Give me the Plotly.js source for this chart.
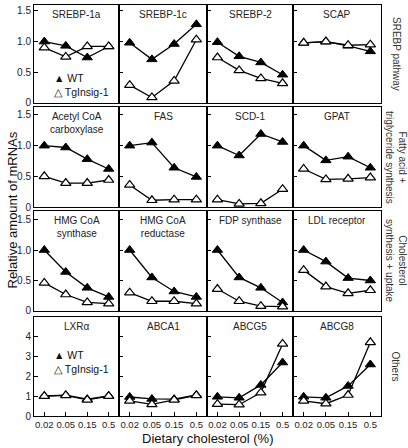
<!DOCTYPE html>
<html>
<head>
<meta charset="utf-8">
<script src="https://cdn.plot.ly/plotly-3.0.1.min.js"></script>
<style>html,body{margin:0;padding:0;background:#fff;}#chart{width:408px;height:448px;}</style>
</head>
<body>
<div id="chart"></div>
<script>
// Dietary cholesterol doses (%) — categorical x
const doses = ['0.02', '0.05', '0.15', '0.5'];

// Panel titles (row-major, 4 x 4)
const panelTitles = [
  'SREBP-1a', 'SREBP-1c', 'SREBP-2', 'SCAP',
  'Acetyl CoA<br>carboxylase', 'FAS', 'SCD-1', 'GPAT',
  'HMG CoA<br>synthase', 'HMG CoA<br>reductase', 'FDP synthase', 'LDL receptor',
  'LXRα', 'ABCA1', 'ABCG5', 'ABCG8'
];

// Group labels (right side, one per row)
const groupLabels = ['SREBP pathway', 'Fatty acid +<br>triglyceride synthesis', 'Cholesterol<br>synthesis + uptake', 'Others'];

// Relative mRNA values — WT
const wtSREBP1a = [1.00, 0.93, 0.74, 0.92];
const wtSREBP1c = [0.98, 0.71, 0.96, 1.28];
const wtSREBP2  = [0.99, 0.76, 0.66, 0.46];
const wtSCAP    = [0.98, 1.00, 0.93, 0.84];
const wtACC     = [1.00, 0.97, 0.78, 0.62];
const wtFAS     = [1.00, 1.05, 0.64, 0.49];
const wtSCD1    = [1.00, 0.84, 1.19, 1.06];
const wtGPAT    = [1.00, 0.76, 0.82, 0.64];
const wtHMGCS   = [1.00, 0.64, 0.38, 0.23];
const wtHMGCR   = [1.00, 0.55, 0.32, 0.23];
const wtFDPS    = [1.00, 0.55, 0.38, 0.14];
const wtLDLR    = [1.00, 0.81, 0.54, 0.50];
const wtLXRa    = [1.01, 1.05, 0.85, 1.02];
const wtABCA1   = [0.96, 0.86, 0.85, 1.06];
const wtABCG5   = [0.97, 0.92, 1.57, 2.70];
const wtABCG8   = [0.97, 0.92, 1.52, 2.60];

// Relative mRNA values — TgInsig-1
const tgSREBP1a = [0.90, 0.75, 0.92, 0.92];
const tgSREBP1c = [0.29, 0.09, 0.36, 1.03];
const tgSREBP2  = [0.74, 0.53, 0.40, 0.32];
const tgSCAP    = [0.98, 1.00, 0.94, 0.95];
const tgACC     = [0.50, 0.39, 0.39, 0.44];
const tgFAS     = [0.36, 0.11, 0.12, 0.12];
const tgSCD1    = [0.12, 0.05, 0.06, 0.29];
const tgGPAT    = [0.62, 0.45, 0.46, 0.48];
const tgHMGCS   = [0.46, 0.27, 0.14, 0.12];
const tgHMGCR   = [0.30, 0.16, 0.16, 0.12];
const tgFDPS    = [0.36, 0.16, 0.08, 0.07];
const tgLDLR    = [0.67, 0.40, 0.29, 0.34];
const tgLXRa    = [1.00, 1.04, 0.81, 1.00];
const tgABCA1   = [0.76, 0.59, 0.81, 1.04];
const tgABCG5   = [0.60, 0.57, 1.18, 3.64];
const tgABCG8   = [0.76, 0.62, 1.06, 3.72];

const wtSeries = [wtSREBP1a, wtSREBP1c, wtSREBP2, wtSCAP, wtACC, wtFAS, wtSCD1, wtGPAT,
                  wtHMGCS, wtHMGCR, wtFDPS, wtLDLR, wtLXRa, wtABCA1, wtABCG5, wtABCG8];
const tgSeries = [tgSREBP1a, tgSREBP1c, tgSREBP2, tgSCAP, tgACC, tgFAS, tgSCD1, tgGPAT,
                  tgHMGCS, tgHMGCR, tgFDPS, tgLDLR, tgLXRa, tgABCA1, tgABCG5, tgABCG8];

// Y tick labels per row
const yTickVals = [[0, 0.5, 1, 1.5], [0, 0.5, 1, 1.5], [0, 0.5, 1, 1.5], [0, 1, 2, 3, 4]];
const yTickText = [['0', '0.5', '1.0', '1.5'], ['0', '0.5', '1.0', '1.5'], ['0', '0.5', '1.0', '1.5'], ['0', '1', '2', '3', '4']];

// ---- layout geometry ----
const FONT = 'Liberation Sans, Arial, Helvetica, sans-serif';
const colDomains = [[0, 0.245], [0.245, 0.4986], [0.4986, 0.7464], [0.7464, 1]];
const rowDomains = [[0.7616, 1.0], [0.5085, 0.7518], [0.2555, 0.4988], [0, 0.2409]];
const rowRanges = [[0, 1.595], [0, 1.63], [0, 1.64], [0, 5]];

const traces = [];
const layout = {
  width: 408, height: 448,
  margin: {l: 34, r: 27, t: 5, b: 32},
  paper_bgcolor: '#ffffff', plot_bgcolor: '#ffffff',
  showlegend: false,
  font: {family: FONT, color: '#111', size: 10},
  annotations: []
};

for (let i = 0; i < 16; i++) {
  const r = Math.floor(i / 4), c = i % 4;
  const xa = 'x' + (i + 1), ya = 'y' + (i + 1);
  const xk = 'xaxis' + (i + 1), yk = 'yaxis' + (i + 1);
  layout[xk] = {
    domain: colDomains[c], anchor: ya, type: 'category',
    categoryorder: 'array', categoryarray: doses,
    range: [-0.48, 3.48],
    showline: true, mirror: true, linecolor: '#000', linewidth: 1,
    ticks: r === 3 ? 'inside' : '', ticklen: 4, tickcolor: '#000', tickwidth: 1,
    showticklabels: r === 3, tickangle: 0, tickfont: {size: 9.5, family: FONT, color: '#222'},
    showgrid: false, zeroline: false, fixedrange: true
  };
  layout[yk] = {
    domain: rowDomains[r], anchor: xa,
    range: rowRanges[r],
    tickvals: yTickVals[r], ticktext: yTickText[r],
    showline: true, mirror: true, linecolor: '#000', linewidth: 1,
    ticks: 'inside', ticklen: 4, tickcolor: '#000', tickwidth: 1,
    showticklabels: c === 0, tickfont: {size: 10, family: FONT, color: '#222'},
    showgrid: false, zeroline: false, fixedrange: true
  };
  traces.push({
    x: doses, y: wtSeries[i], xaxis: xa, yaxis: ya, type: 'scatter', mode: 'lines+markers',
    name: 'WT', line: {color: '#000', width: 1.3},
    marker: {symbol: 'triangle-up', size: 9, color: '#000', line: {color: '#000', width: 1}},
    cliponaxis: false, hoverinfo: 'skip'
  });
  traces.push({
    x: doses, y: tgSeries[i], xaxis: xa, yaxis: ya, type: 'scatter', mode: 'lines+markers',
    name: 'TgInsig-1', line: {color: '#000', width: 1.3},
    marker: {symbol: 'triangle-up', size: 9, color: '#fff', line: {color: '#000', width: 1.2}},
    cliponaxis: false, hoverinfo: 'skip'
  });
  layout.annotations.push({
    text: panelTitles[i], xref: xa + ' domain', yref: ya + ' domain',
    x: 0.5, y: 1, xanchor: 'center', yanchor: 'top', yshift: -2,
    showarrow: false, font: {size: 10, family: FONT, color: '#222'}
  });
}

// Group labels at right, rotated
for (let r = 0; r < 4; r++) {
  layout.annotations.push({
    text: groupLabels[r], xref: 'paper', yref: 'paper',
    x: 1, xshift: 15, xanchor: 'center',
    y: (rowDomains[r][0] + rowDomains[r][1]) / 2, yanchor: 'middle',
    textangle: 90, showarrow: false,
    font: {size: 10, family: FONT, color: '#333'}
  });
}

// Axis titles
layout.annotations.push({
  text: 'Relative amount of mRNAs', xref: 'paper', yref: 'paper',
  x: 0, xshift: -22, xanchor: 'center', y: 0.5, yanchor: 'middle',
  textangle: -90, showarrow: false, font: {size: 13, family: FONT, color: '#111'}
});
layout.annotations.push({
  text: 'Dietary cholesterol (%)', xref: 'paper', yref: 'paper',
  x: 0.5, xanchor: 'center', y: 0, yshift: -22, yanchor: 'middle',
  showarrow: false, font: {size: 13, family: FONT, color: '#111'}
});

// Legend keys (in first and last row, first column)
const legendCenters = [0.8054, 0.1305];
const legendText = '▲ WT<br>△ TgInsig-1';
legendCenters.forEach(function (yc) {
  layout.annotations.push({
    text: legendText, xref: 'paper', yref: 'paper', align: 'left',
    x: 0.053, xanchor: 'left', y: yc, yanchor: 'middle',
    showarrow: false, font: {size: 10.5, family: FONT, color: '#111'}
  });
});

Plotly.newPlot('chart', traces, layout, {staticPlot: true, displayModeBar: false});
</script>
</body>
</html>
